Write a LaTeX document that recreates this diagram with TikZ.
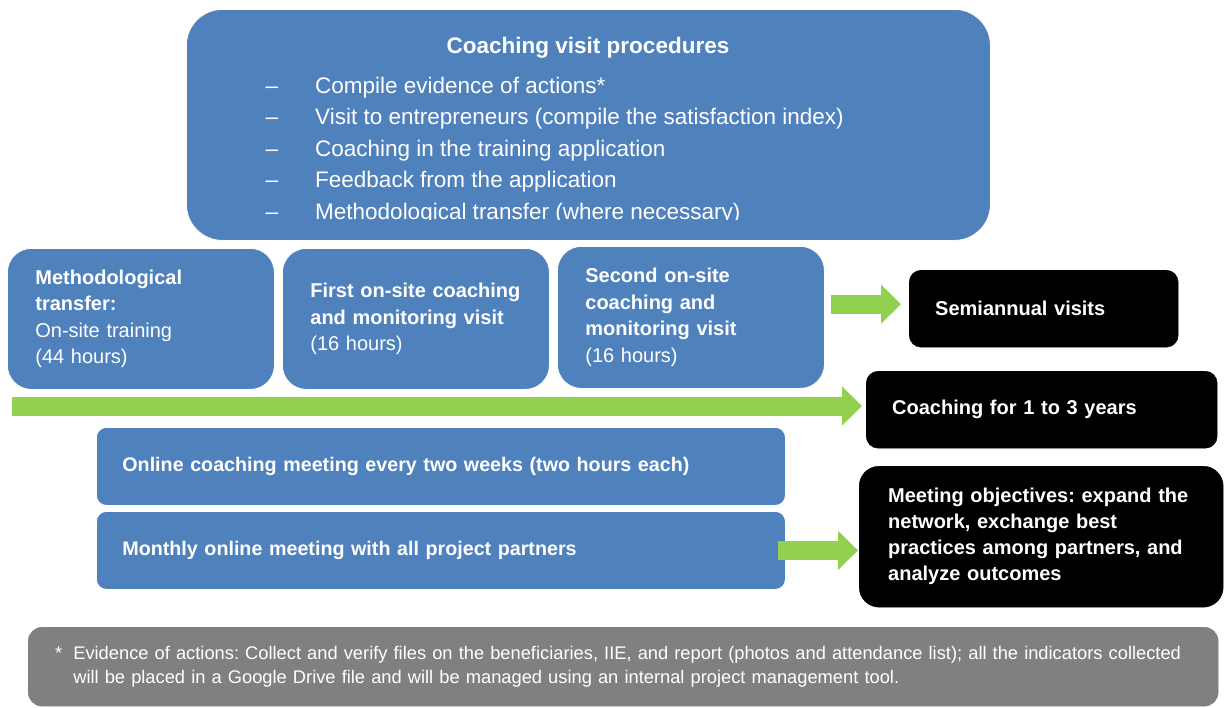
\documentclass[tikz,border=0pt]{standalone}
\usepackage{fontspec}
\setmainfont{Liberation Sans}
\frenchspacing
\usetikzlibrary{arrows.meta}
\definecolor{boxblue}{RGB}{79,129,189}
\definecolor{arrowgreen}{RGB}{146,208,80}
\definecolor{notegrey}{RGB}{128,128,128}
\tikzset{
  bluebox/.style={fill=boxblue, draw=white, line width=0.8pt, rounded corners=24pt,
    text=white, align=left, anchor=north west, inner xsep=28pt, inner ysep=0pt,
    font=\fontsize{20}{26.5}\selectfont},
  blackbox/.style={fill=black, draw=black, rounded corners=12pt, text=white,
    align=left, anchor=north west, inner xsep=26pt, inner ysep=0pt,
    font=\bfseries\fontsize{20}{26}\selectfont},
  notebox/.style={fill=notegrey, draw=notegrey, rounded corners=14pt, text=white,
    align=left, anchor=north west, inner xsep=27pt, inner ysep=0pt,
    font=\fontsize{18.3}{24}\selectfont},
  listtext/.style={text=white, inner sep=0pt, font=\fontsize{22.5}{31.5}\selectfont},
  garrow/.style={arrowgreen, line width=19pt, -{Triangle[length=20pt,width=38pt]}},
}

\begin{document}
\begin{tikzpicture}[x=1pt, y=-1pt]
  \useasboundingbox (0,0) rectangle (1225,707);

  % --- procedures box on top ---
  \node[bluebox, rounded corners=36pt, minimum width=804pt, minimum height=231pt]
       (proc) at (186,9) {};
  \node[listtext, font=\bfseries\fontsize{22.5}{31.5}\selectfont, anchor=base]
       (title) at (588,53) {Coaching visit procedures};
  \begin{scope}
    % the last line runs past the text frame
    \clip (proc.north west) rectangle (proc.east |- 0,219.5);
    \foreach \txt [count=\i from 0] in {Compile evidence of actions*,
        Visit to entrepreneurs (compile the satisfaction index),
        Coaching in the training application,
        Feedback from the application,
        Methodological transfer (where necessary)} {
      \node[listtext, anchor=base] (dash\i) at (272,93+31.5*\i) {--};
      \node[listtext, anchor=base west] (item\i) at (315,93+31.5*\i) {\txt};
    }
  \end{scope}

  % --- on-site stages ---
  \node[bluebox, text width=211pt, minimum height=141pt] (transfer) at (7,248)
       {\textbf{Methodological}\\\textbf{transfer:}\\On-site training\\(44 hours)};
  \node[bluebox, text width=211pt, minimum height=141pt] (visit1) at (282,248)
       {\textbf{First on-site coaching}\\\textbf{and monitoring visit}\\(16 hours)};
  \node[bluebox, text width=211pt, minimum height=142pt] (visit2) at (557,246)
       {\textbf{Second on-site}\\\textbf{coaching and}\\\textbf{monitoring visit}\\(16 hours)};

  % --- outcomes (black) ---
  \node[blackbox, text width=217pt, minimum height=77pt] (semi) at (909,270)
       {Semiannual visits};
  \node[blackbox, text width=299pt, minimum height=77pt] (coach) at (866,371)
       {Coaching for 1 to 3 years};
  \node[blackbox, rounded corners=20pt, inner xsep=29pt, text width=306pt,
        minimum height=141pt] (goals) at (859,466)
       {Meeting objectives: expand the\\network, exchange best\\practices among partners, and\\analyze outcomes};

  % --- online meetings ---
  \node[bluebox, rounded corners=10pt, inner xsep=26pt, text width=637pt,
        minimum height=78pt, font=\bfseries\fontsize{19.7}{26}\selectfont] (online) at (96,427)
       {Online coaching meeting every two weeks (two hours each)};
  \node[bluebox, rounded corners=10pt, inner xsep=26pt, text width=637pt,
        minimum height=78pt, font=\bfseries\fontsize{19.7}{26}\selectfont] (monthly) at (96,511)
       {Monthly online meeting with all project partners};

  % --- green arrows ---
  \coordinate (lineleft) at (12,406);
  \draw[garrow, transform canvas={yshift=4.5pt}, shorten <=6pt, shorten >=8pt]
       (visit2.east |- semi.west) -- (semi.west);
  \draw[garrow, shorten >=4pt] (lineleft) -- (lineleft -| coach.west);
  \draw[garrow, shorten <=-8pt, shorten >=1pt] (monthly.east) -- (monthly.east -| goals.west);

  % --- footnote ---
  \node[notebox, text width=1136pt, minimum height=79pt] (note) at (28,627)
       {\begin{tabular}{@{}l@{\hspace{11pt}}l@{}}
        * & Evidence of actions: Collect and verify files on the beneficiaries, IIE, and report (photos and attendance list); all the indicators collected\\
          & will be placed in a Google Drive file and will be managed using an internal project management tool.
        \end{tabular}};
\end{tikzpicture}
\end{document}
